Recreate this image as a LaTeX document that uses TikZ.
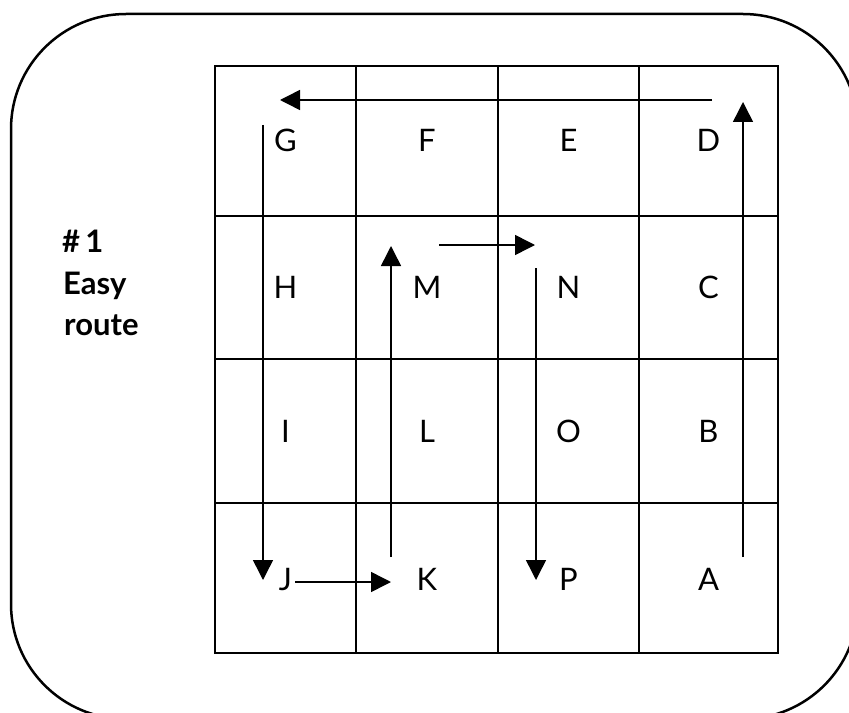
\documentclass[tikz,border=0pt]{standalone}
\usepackage{fontspec}
\setmainfont{Lato}
\usetikzlibrary{arrows.meta}
\begin{document}
\begin{tikzpicture}[x=1bp,y=-1bp,
  gridline/.style={line width=2.5bp},
  frame/.style={line width=2.5bp, rounded corners=115bp},
  route/.style={line width=1.5bp, -{Triangle[length=20bp,width=20bp]}},
  cell/.style={anchor=base, inner sep=0pt, font=\fontsize{31bp}{36bp}\selectfont},
  lab/.style={anchor=base west, inner sep=0pt, font=\fontsize{31bp}{36bp}\selectfont\bfseries}]
\useasboundingbox (0,0) rectangle (849,713);
\clip (0,0) rectangle (849,713);
\draw[frame] (11,14) rectangle (858,719);
% grid
\draw[gridline] (215,66) rectangle (778,653);
\foreach \x in {356,498,639} \draw[gridline] (\x,66) -- (\x,653);
\foreach \y in {216,359,503} \draw[gridline] (215,\y) -- (778,\y);
% cell letters
\node[cell] (G) at (285.5,152) {G};
\node[cell] (F) at (427,152) {F};
\node[cell] (E) at (568.5,152) {E};
\node[cell] (D) at (708.5,152) {D};
\node[cell] (H) at (285.5,298.5) {H};
\node[cell] (M) at (427,298.5) {M};
\node[cell] (N) at (568.5,298.5) {N};
\node[cell] (C) at (708.5,298.5) {C};
\node[cell] (I) at (285.5,442) {I};
\node[cell] (L) at (427,442) {L};
\node[cell] (O) at (568.5,442) {O};
\node[cell] (B) at (708.5,442) {B};
\node[cell] (J) at (285.5,590) {J};
\node[cell] (K) at (427,590) {K};
\node[cell] (P) at (568.5,590) {P};
\node[cell] (A) at (708.5,590) {A};
% label
\node[lab] (l1) at (62,252) {\#\,1};
\node[lab] (l2) at (63,294) {Easy};
\node[lab] (l3) at (64,335) {route};
% route coordinates
\coordinate (d0) at (743,557);
\coordinate (d1) at (743,102);
\coordinate (t0) at (712,100);
\coordinate (t1) at (280,100);
\coordinate (g0) at (263,125);
\coordinate (g1) at (263,580);
\coordinate (j0) at (295,582);
\coordinate (j1) at (391,582);
\coordinate (k0) at (391,557);
\coordinate (k1) at (391,246);
\coordinate (m0) at (439,245);
\coordinate (m1) at (535,245);
\coordinate (n0) at (536,268);
\coordinate (n1) at (536,580);
\draw[route] (d0) -- (d1);
\draw[route] (t0) -- (t1);
\draw[route] (g0) -- (g1);
\draw[route] (j0) -- (j1);
\draw[route] (k0) -- (k1);
\draw[route] (m0) -- (m1);
\draw[route] (n0) -- (n1);
\end{tikzpicture}
\end{document}
